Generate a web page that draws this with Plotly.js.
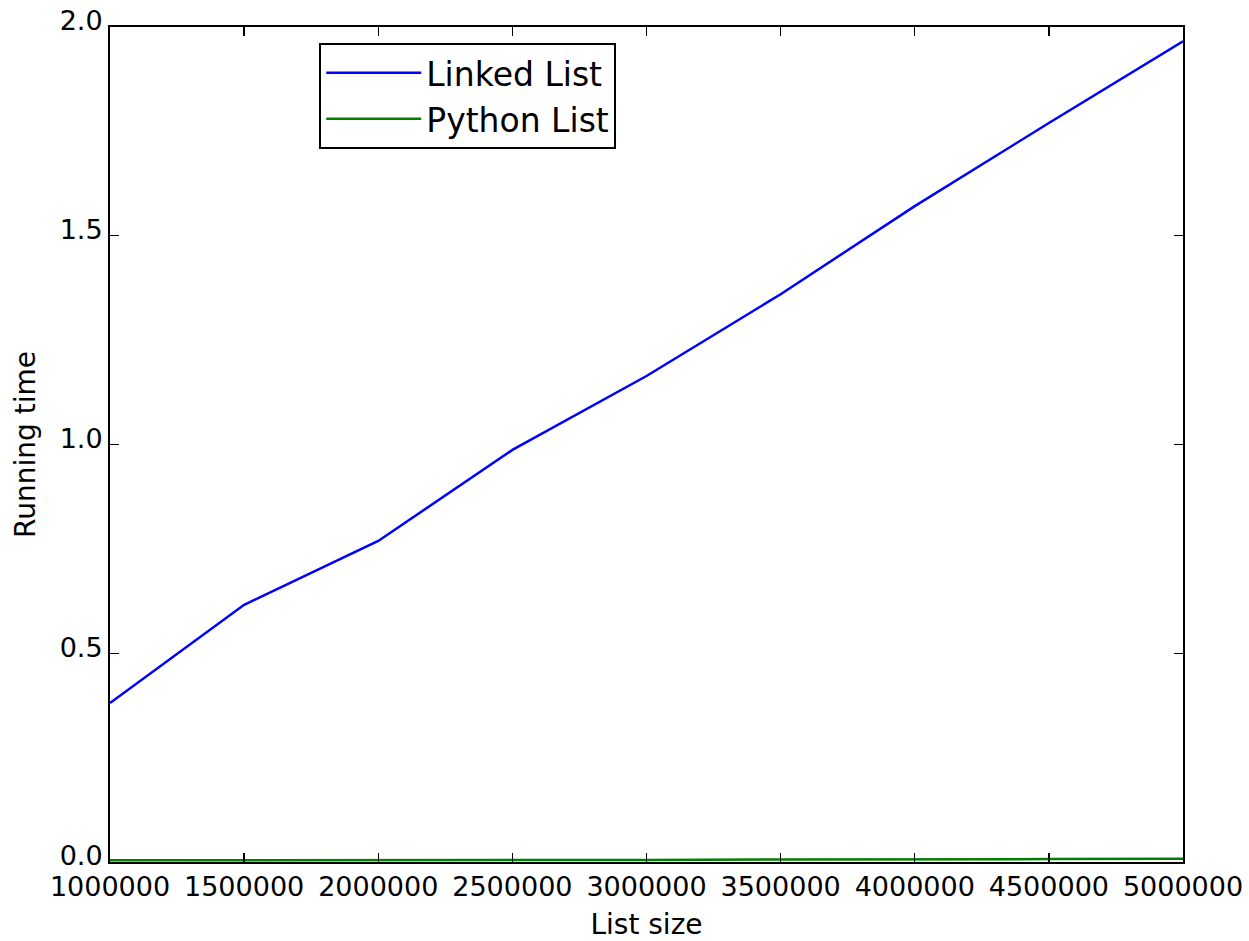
<!DOCTYPE html>
<html>
<head>
<meta charset="utf-8">
<script src="https://cdn.plot.ly/plotly-3.0.1.min.js"></script>
<style>html,body{margin:0;padding:0;background:#fff;}#chart{width:1249px;height:941px;}</style>
</head>
<body>
<div id="chart"></div>
<script>
const listSizes = [1000000, 1500000, 2000000, 2500000, 3000000, 3500000, 4000000, 4500000, 5000000];
const linkedListTimes = [0.381, 0.616, 0.769, 0.987, 1.164, 1.360, 1.571, 1.770, 1.966];
const pythonListTimes = [0.004, 0.004, 0.005, 0.005, 0.005, 0.006, 0.006, 0.007, 0.008];
const xTickVals = [1000000, 1500000, 2000000, 2500000, 3000000, 3500000, 4000000, 4500000, 5000000];
const xTickText = ['1000000', '1500000', '2000000', '2500000', '3000000', '3500000', '4000000', '4500000', '5000000'];
const yTickVals = [0.0, 0.5, 1.0, 1.5, 2.0];
const yTickText = ['0.0', '0.5', '1.0', '1.5', '2.0'];

const tickFont = {family: 'DejaVu Sans, sans-serif', size: 27, color: '#000'};
const titleFont = {family: 'DejaVu Sans, sans-serif', size: 28, color: '#000'};

const traces = [
  {x: listSizes, y: linkedListTimes, mode: 'lines', name: 'Linked List', line: {color: '#0000ff', width: 2.5}},
  {x: listSizes, y: pythonListTimes, mode: 'lines', name: 'Python List', line: {color: '#008000', width: 2.5}}
];

const axisCommon = {
  showgrid: false, zeroline: false, showline: true, linecolor: '#000', linewidth: 2,
  mirror: 'ticks', ticks: 'inside', ticklen: 9, tickwidth: 1.3, tickcolor: '#000',
  tickfont: tickFont
};

const layout = {
  width: 1249, height: 941,
  margin: {l: 110, r: 66, t: 27, b: 79},
  paper_bgcolor: '#fff', plot_bgcolor: '#fff',
  font: tickFont,
  showlegend: true,
  legend: {
    x: 0.195, y: 0.981, xanchor: 'left', yanchor: 'top',
    bgcolor: '#fff', bordercolor: '#000', borderwidth: 2,
    font: {family: 'DejaVu Sans, sans-serif', size: 33, color: '#000'},
    itemwidth: 95, tracegroupgap: 0
  },
  xaxis: Object.assign({}, axisCommon, {
    range: [1000000, 5000000], tickmode: 'array', tickvals: xTickVals, ticktext: xTickText,
    title: {text: 'List size', font: titleFont, standoff: 14}
  }),
  yaxis: Object.assign({}, axisCommon, {
    range: [0, 2.0], tickmode: 'array', tickvals: yTickVals, ticktext: yTickText,
    ticklabelshift: -6,
    title: {text: 'Running time', font: titleFont, standoff: 16}
  })
};

Plotly.newPlot('chart', traces, layout, {displayModeBar: false, staticPlot: true});
</script>
</body>
</html>
